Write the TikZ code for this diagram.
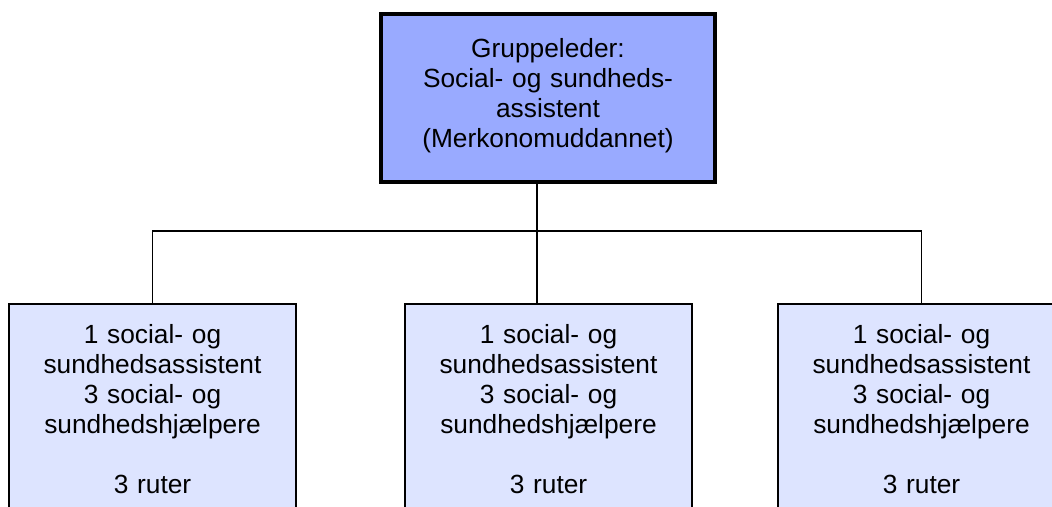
\documentclass[tikz,border=0pt]{standalone}
\usepackage{fontspec}
\setmainfont{Liberation Sans}
\usepackage{tikz}
\usetikzlibrary{calc}
\definecolor{leaderblue}{RGB}{153,170,255}
\definecolor{teamblue}{RGB}{221,228,255}

\tikzset{
  orgtext/.style={font=\fontsize{26.3}{30}\selectfont, align=center},
  teambox/.style={orgtext, draw=black, line width=2pt, fill=teamblue,
                  anchor=north, minimum width=287pt, text width=280pt, inner ysep=20pt},
  link/.style={line width=1.6pt, black}
}

\begin{document}
\begin{tikzpicture}[x=1pt,y=-1pt]
    \useasboundingbox (0,0) rectangle (1052,506);
    \clip (0,0) rectangle (1052,506);

    % Gruppeleder
    \node[orgtext,
          draw=black,
          fill=leaderblue,
          line width=4pt,
          minimum width=334pt,
          minimum height=168pt,
          text width=320pt,
          text depth=100pt] (lead) at (548,98)
        {Gruppeleder:\\Social- og sundheds-\\assistent\\(Merkonomuddannet)};

    % grupper
    \node[teambox] (teamA) at (152.5,303)
        {1 social- og\\sundhedsassistent\\3 social- og\\sundhedshjælpere\\[30pt]3 ruter};
    \node[teambox] (teamB) at (548.5,303)
        {1 social- og\\sundhedsassistent\\3 social- og\\sundhedshjælpere\\[30pt]3 ruter};
    \node[teambox] (teamC) at (921.5,303)
        {1 social- og\\sundhedsassistent\\3 social- og\\sundhedshjælpere\\[30pt]3 ruter};

    % forbindelser
    \coordinate (fork) at (537,231);
    \draw[link] (lead.south -| fork) -- (fork);
    \draw[link] (teamA.north) |- (fork);
    \draw[link] (teamC.north) |- (fork);
    \draw[link] (fork) -- (fork |- teamB.north);
\end{tikzpicture}
\end{document}
